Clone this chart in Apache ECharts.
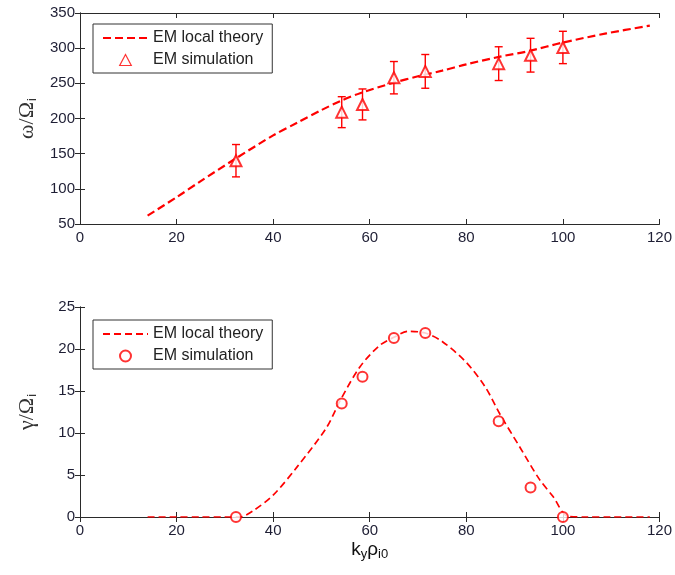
<!DOCTYPE html>
<html>
<head>
<meta charset="utf-8">
<script src="https://cdn.jsdelivr.net/npm/echarts@6/dist/echarts.min.js"></script>
<style>
html,body{margin:0;padding:0;background:#fff;}
#c{width:675px;height:575px;}
</style>
</head>
<body>
<div id="c"></div>
<script>
// ---- data ----
var xTicks = [0, 20, 40, 60, 80, 100, 120];
var theoryXw = [14, 20, 25, 32, 40, 45, 50, 54, 58, 65, 70, 75, 80, 87, 93, 100, 109, 118];
var theoryW  = [62, 88, 111, 142, 176, 194, 212, 225, 236, 251, 260, 268, 277, 288, 296, 308, 321, 332];
var theoryXg = [14, 20, 25, 30, 33, 36, 40, 45, 51, 54, 58, 62, 65, 68, 71.5, 75, 80, 84, 87, 91, 95, 98, 101, 105, 110, 118];
var theoryG  = [0, 0, 0, 0, 0, 0.8, 2.6, 6, 10.6, 14.0, 17.9, 20.4, 21.4, 22.1, 21.9, 20.9, 18.4, 15.4, 12.2, 8.4, 4.6, 2.4, 0.1, 0, 0, 0];
var simX   = [32.3, 54.2, 58.5, 65, 71.5, 86.7, 93.3, 100];
var simW   = [140, 209, 220, 258, 267, 278, 290, 301];
var simErr = [23, 22, 22, 23, 24, 24, 24, 23];
var simG   = [0, 13.5, 16.7, 21.3, 21.9, 11.4, 3.5, 0];
var labels = {
  w_theory: 'EM local theory', w_sim: 'EM simulation',
  g_theory: 'EM local theory', g_sim: 'EM simulation'
};

function zip(a, b, c) {
  return a.map(function (v, i) { return c ? [v, b[i], c[i]] : [v, b[i]]; });
}

var RED = '#ff0000';
var AX = '#2a2a2a';
var LBL = '#1e1e34';
var FONT = 'Liberation Sans, Arial, sans-serif';

function xAxisPair(gi, withName) {
  var base = {
    type: 'value', gridIndex: gi, min: 0, max: 120, interval: 20,
    axisLine: { show: true, lineStyle: { color: AX, width: 1 } },
    axisTick: { show: true, inside: true, length: 5, lineStyle: { color: AX } },
    splitLine: { show: false }
  };
  var bottom = Object.assign({}, base, {
    position: 'bottom',
    axisLabel: { color: LBL, fontSize: 15, fontFamily: FONT, margin: 6 }
  });
  if (withName) {
    bottom.name = '{a|k}{s|y}{a|ρ}{s|i0}';
    bottom.nameLocation = 'middle';
    bottom.nameGap = 20;
    bottom.nameTextStyle = {
      color: '#111',
      rich: {
        a: { fontSize: 19, fontFamily: FONT, color: '#111', lineHeight: 22 },
        s: { fontSize: 13, fontFamily: FONT, color: '#111', lineHeight: 14, padding: [9, 0, 0, 0] }
      }
    };
  }
  var top = Object.assign({}, base, { position: 'top', axisLabel: { show: false } });
  return [bottom, top];
}

function yAxisPair(gi, min, max, interval, nameMain) {
  var base = {
    type: 'value', gridIndex: gi, min: min, max: max, interval: interval,
    axisLine: { show: true, lineStyle: { color: AX, width: 1 } },
    axisTick: { show: true, inside: true, length: 5, lineStyle: { color: AX } },
    splitLine: { show: false }
  };
  var left = Object.assign({}, base, {
    position: 'left',
    axisLabel: { color: LBL, fontSize: 15, fontFamily: FONT, margin: 5 },
    name: '{a|' + nameMain + '}{s|i}',
    nameLocation: 'middle',
    nameRotate: 90,
    nameGap: 40,
    nameTextStyle: {
      rich: {
        a: { fontSize: 22, fontFamily: 'Liberation Serif, serif', color: '#333', lineHeight: 26 },
        s: { fontSize: 13, fontFamily: FONT, color: '#333', lineHeight: 14, padding: [11, 0, 0, 1] }
      }
    }
  });
  var right = Object.assign({}, base, { position: 'right', axisLabel: { show: false } });
  return [left, right];
}

function errRender(params, api) {
  var x = api.value(0), y = api.value(1), e = api.value(2);
  var t = api.coord([x, y + e]);
  var b = api.coord([x, y - e]);
  var hw = 4;
  var st = { stroke: RED, lineWidth: 1.4 };
  return {
    type: 'group',
    children: [
      { type: 'line', shape: { x1: t[0], y1: t[1], x2: b[0], y2: b[1] }, style: st },
      { type: 'line', shape: { x1: t[0] - hw, y1: t[1], x2: t[0] + hw, y2: t[1] }, style: st },
      { type: 'line', shape: { x1: b[0] - hw, y1: b[1], x2: b[0] + hw, y2: b[1] }, style: st }
    ]
  };
}

var legendBase = {
  orient: 'vertical',
  padding: [6, 9, 5, 9],
  itemWidth: 45,
  itemHeight: 11,
  itemGap: 6,
  borderColor: '#333',
  borderWidth: 1,
  backgroundColor: '#fff',
  symbolKeepAspect: true,
  textStyle: { fontSize: 16, fontFamily: FONT, color: '#222' },
  formatter: function (n) { return labels[n]; },
  selectedMode: false
};

var xa0 = xAxisPair(0, false), xa1 = xAxisPair(1, true);
var ya0 = yAxisPair(0, 50, 350, 50, 'ω/Ω'), ya1 = yAxisPair(1, 0, 25, 5, 'γ/Ω');

var option = {
  animation: false,
  backgroundColor: '#fff',
  grid: [
    { left: 80, top: 13, width: 581, height: 211 },
    { left: 80, top: 307, width: 581, height: 210 }
  ],
  xAxis: [xa0[0], xa0[1], xa1[0], xa1[1]],
  yAxis: [ya0[0], ya0[1], ya1[0], ya1[1]],
  legend: [
    Object.assign({}, legendBase, { left: 93, top: 24, data: [
      { name: 'w_theory', itemStyle: { opacity: 0 } },
      { name: 'w_sim', icon: 'path://M5,0L10,9.5L0,9.5Z',
        itemStyle: { color: '#fff', borderColor: RED, borderWidth: 1.2 } }
    ] }),
    Object.assign({}, legendBase, { left: 93, top: 320, data: [
      { name: 'g_theory', itemStyle: { opacity: 0 } },
      { name: 'g_sim', icon: 'emptyCircle' }
    ] })
  ],
  series: [
    {
      name: 'w_theory', type: 'line', xAxisIndex: 0, yAxisIndex: 0,
      data: zip(theoryXw, theoryW), showSymbol: false, symbol: 'none', symbolSize: 0, smooth: 0.3,
      lineStyle: { color: RED, width: 2.2, type: [8, 4] }, itemStyle: { color: RED }, z: 3
    },
    {
      name: 'w_err', type: 'custom', xAxisIndex: 0, yAxisIndex: 0,
      data: zip(simX, simW, simErr), renderItem: errRender,
      encode: { x: 0, y: 1 }, z: 2
    },
    {
      name: 'w_sim', type: 'scatter', xAxisIndex: 0, yAxisIndex: 0,
      data: zip(simX, simW), symbol: 'emptyTriangle', symbolSize: 11,
      itemStyle: { color: RED, borderColor: RED, borderWidth: 1.2 }, z: 4
    },
    {
      name: 'g_theory', type: 'line', xAxisIndex: 2, yAxisIndex: 2,
      data: zip(theoryXg, theoryG), showSymbol: false, symbol: 'none', symbolSize: 0, smooth: 0.3,
      lineStyle: { color: RED, width: 1.7, type: [7, 4] }, itemStyle: { color: RED }, z: 3
    },
    {
      name: 'g_sim', type: 'scatter', xAxisIndex: 2, yAxisIndex: 2,
      data: zip(simX, simG), symbol: 'emptyCircle', symbolSize: 10,
      itemStyle: { color: RED, borderColor: RED, borderWidth: 1.2 }, z: 4
    }
  ]
};

var chart = echarts.init(document.getElementById('c'), null, { renderer: 'canvas' });
chart.setOption(option);
</script>
</body>
</html>
